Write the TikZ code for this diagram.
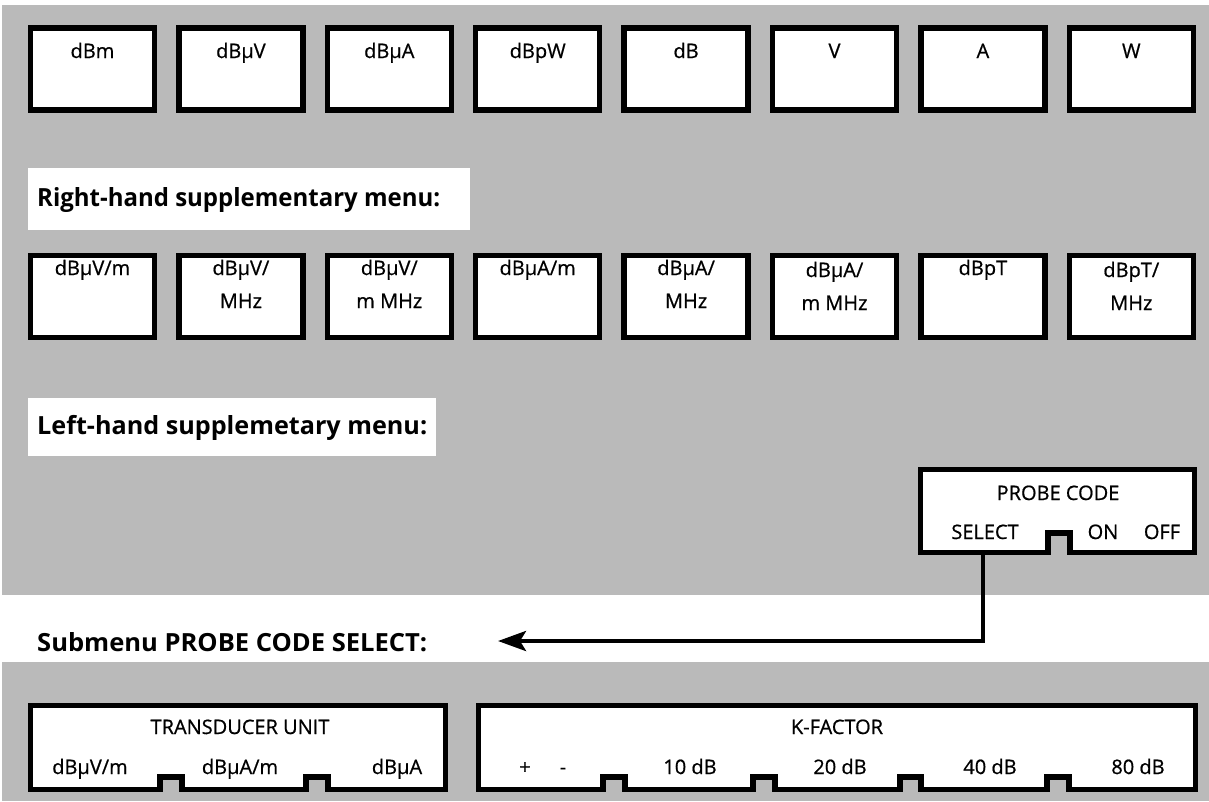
\documentclass[tikz,border=0pt]{standalone}
\usepackage{fontspec}
\setmainfont{Open Sans}
\newfontfamily\keyfont{Open Sans}[FakeBold=0.7]
\usepackage{graphicx}
\usetikzlibrary{arrows.meta}
\definecolor{halftone}{RGB}{186,186,186}
\newcommand\fitw[2]{\resizebox{#1}{\height}{#2}}
\begin{document}
\begin{tikzpicture}[x=1pt,y=-1pt,
  keybox/.style={draw=black,line width=5.5pt,fill=white,minimum width=124pt,minimum height=82pt,inner sep=0pt},
  keytext/.style={font=\keyfont\fontsize{20}{24}\selectfont,anchor=base,inner sep=0pt},
  heading/.style={font=\fontsize{25}{30}\selectfont\bfseries,anchor=west,inner sep=0pt},
  panel/.style={draw=black,line width=5.5pt,fill=white,line join=miter},
  conn/.style={line width=4pt,-{Stealth[length=28pt,width=20pt,inset=6pt]}},
  shade/.style={fill=halftone,draw=none},
  plain/.style={fill=white,draw=none}
]
\useasboundingbox (0,0) rectangle (1209,801);
% halftone backgrounds
\fill[shade] (2,5) rectangle (1209,595);
\fill[shade] (2,662) rectangle (1209,801);
\fill[plain] (28,168) rectangle (470,230);
\fill[plain] (28,398) rectangle (436,456);

% top row
\foreach \t [count=\i] in {dBm,dBμV,dBμA,dBpW,dB,V,A,W}{
  \node[keybox] (top\i) at ({92.5+148.4*(\i-1)},69) {};
  \node[keytext] (toplbl\i) at ({92.5+148.4*(\i-1)},58) {\t};
}

\node[heading] (rhead) at (37,200) {\fitw{403pt}{Right-hand supplementary menu:}};

% right-hand supplementary row
\foreach \i in {1,...,8}{
  \node[keybox] (rs\i) at ({92.5+148.4*(\i-1)},296.5) {};
}
\node[keytext] (rsa1) at (92.5,275) {dBμV/m};
\node[keytext] (rsa2) at (240.9,275) {dBμV/};
\node[keytext] (rsb2) at (240.9,308) {MHz};
\node[keytext] (rsa3) at (389.3,275) {dBμV/};
\node[keytext] (rsb3) at (389.3,308) {m MHz};
\node[keytext] (rsa4) at (537.7,275) {dBμA/m};
\node[keytext] (rsa5) at (686.1,275) {dBμA/};
\node[keytext] (rsb5) at (686.1,308) {MHz};
\node[keytext] (rsa6) at (834.5,277) {dBμA/};
\node[keytext] (rsb6) at (834.5,310) {m MHz};
\node[keytext] (rsa7) at (982.9,275) {dBpT};
\node[keytext] (rsa8) at (1131.3,277) {dBpT/};
\node[keytext] (rsb8) at (1131.3,310) {MHz};

\node[heading] (lhead) at (37,428) {\fitw{390pt}{Left-hand supplemetary menu:}};

% probe code panel
\draw[panel] (920.5,469.5) -- (1194.5,469.5) -- (1194.5,552.5) -- (1070,552.5) -- (1070,533) -- (1048,533) -- (1048,552.5) -- (920.5,552.5) -- cycle;
\node[keytext] (pc) at (1058,500) {PROBE CODE};
\node[keytext] (pcsel) at (985,539) {SELECT};
\node[keytext] (pcon) at (1103,539) {ON};
\node[keytext] (pcoff) at (1162,539) {OFF};
\coordinate (probesel) at (983,552.5);

% submenu heading and connector
\node[heading] (shead) at (37,642) {\fitw{390pt}{Submenu PROBE CODE SELECT:}};
\coordinate (subtip) at (498,641);
\draw[conn] (probesel) |- (subtip);

% transducer unit panel
\draw[panel] (30.5,705.5) -- (445.5,705.5) -- (445.5,789.5) -- (328,789.5) -- (328,777) -- (306,777) -- (306,789.5) -- (182,789.5) -- (182,777) -- (160,777) -- (160,789.5) -- (30.5,789.5) -- cycle;
\node[keytext] (tu) at (240,734) {TRANSDUCER UNIT};
\node[keytext] (tu1) at (90,774) {dBμV/m};
\node[keytext] (tu2) at (240,774) {dBμA/m};
\node[keytext] (tu3) at (397,774) {dBμA};

% k-factor panel
\draw[panel] (478.5,705.5) -- (1195.5,705.5) -- (1195.5,789.5)
  -- (1069,789.5) -- (1069,777) -- (1047,777) -- (1047,789.5)
  -- (921,789.5) -- (921,777) -- (900,777) -- (900,789.5)
  -- (775,789.5) -- (775,777) -- (753,777) -- (753,789.5)
  -- (625,789.5) -- (625,777) -- (603,777) -- (603,789.5)
  -- (478.5,789.5) -- cycle;
\node[keytext] (kf) at (837,734) {K-FACTOR};
\node[keytext] (kplus) at (525,774) {+};
\node[keytext] (kminus) at (563,774) {-};
\node[keytext] (k10) at (690,774) {10 dB};
\node[keytext] (k20) at (840,774) {20 dB};
\node[keytext] (k40) at (990,774) {40 dB};
\node[keytext] (k80) at (1138,774) {80 dB};
\end{tikzpicture}
\end{document}
